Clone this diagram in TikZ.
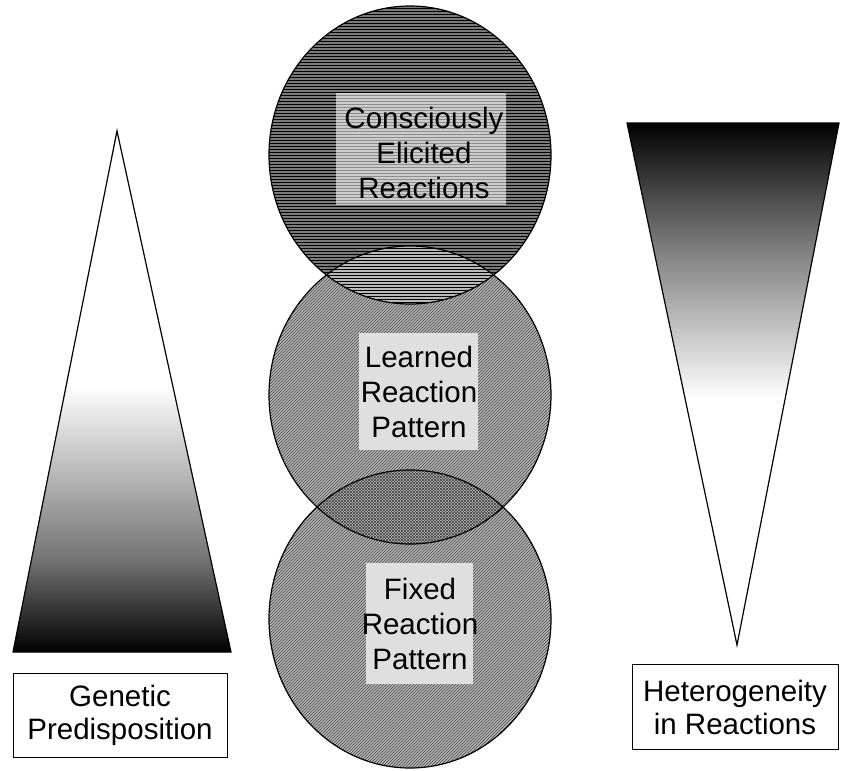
\documentclass[tikz,border=0pt]{standalone}
\usepackage{fontspec}
\setmainfont{Liberation Sans}
\usetikzlibrary{patterns}
\begin{document}
\begin{tikzpicture}[x=1pt,y=-1pt,
  outline/.style={draw=black,line width=1.2pt},
  labelbox/.style={draw=black,line width=0.9pt,fill=white,align=center,inner sep=0pt,
     font=\fontsize{29.5}{33}\selectfont},
  circtext/.style={align=center,inner sep=0pt,font=\fontsize{29.5}{35}\selectfont},
  lightbox/.style={fill=gray!25}
]
\useasboundingbox (0,0) rectangle (841,771);
\fill[white] (0,0) rectangle (841,771);

% ---------- left triangle ----------
\coordinate (LA) at (117,131);
\coordinate (LB) at (13,652);
\coordinate (LC) at (231,652);
\begin{scope}
  \clip (LA) -- (LB) -- (LC) -- cycle;
  \shade[top color=white,bottom color=black!55] (0,385) rectangle (250,560);
  \shade[top color=black!55,bottom color=black] (0,559.5) rectangle (250,653);
\end{scope}
\draw[outline,line join=miter] (LA) -- (LB) -- (LC) -- cycle;

% ---------- right triangle ----------
\coordinate (RA) at (627,123);
\coordinate (RB) at (839,123);
\coordinate (RC) at (737,645);
\begin{scope}
  \clip (RA) -- (RB) -- (RC) -- cycle;
  \shade[top color=black,bottom color=black!50] (600,122) rectangle (841,250);
  \shade[top color=black!50,bottom color=white] (600,249.5) rectangle (841,400);
\end{scope}
\draw[outline,line join=miter] (RA) -- (RB) -- (RC) -- cycle;

% ---------- circles ----------
\def\rx{141}\def\ry{149}
\coordinate (C1) at (410,155);
\coordinate (C2) at (410,395);
\coordinate (C3) at (410,619);

% circle 3 and 2 base fills
\fill[gray!55] (C3) ellipse [x radius=\rx,y radius=\ry];
\fill[pattern=north east lines,pattern color=black!75] (C3) ellipse [x radius=\rx,y radius=\ry];
\fill[gray!55] (C2) ellipse [x radius=\rx,y radius=\ry];
\fill[pattern=north east lines,pattern color=black!75] (C2) ellipse [x radius=\rx,y radius=\ry];
% lens between circle 2 and 3
\begin{scope}
  \clip (C3) ellipse [x radius=\rx,y radius=\ry];
  \fill[pattern=north west lines,pattern color=black!75] (C2) ellipse [x radius=\rx,y radius=\ry];
\end{scope}
% circle 1
\fill[black!52] (C1) ellipse [x radius=\rx,y radius=\ry];
\fill[pattern=horizontal lines,pattern color=black] (C1) ellipse [x radius=\rx,y radius=\ry];
% lens between circle 1 and 2
\begin{scope}
  \clip (C1) ellipse [x radius=\rx,y radius=\ry];
  \fill[gray!55] (C2) ellipse [x radius=\rx,y radius=\ry];
  \fill[pattern=horizontal lines,pattern color=black] (C2) ellipse [x radius=\rx,y radius=\ry];
\end{scope}

% light boxes behind the texts
\fill[gray!40] (336,93) rectangle (506,205);
\fill[pattern=horizontal lines,pattern color=black!45] (336,93) rectangle (506,205);
\fill[lightbox] (359,333) rectangle (478,450);
\fill[lightbox] (366,563) rectangle (473,684);

% outlines
\draw[outline] (C3) ellipse [x radius=\rx,y radius=\ry];
\draw[outline] (C2) ellipse [x radius=\rx,y radius=\ry];
\draw[outline] (C1) ellipse [x radius=\rx,y radius=\ry];

% texts in circles
\node[circtext] (t1) at (424,153) {Consciously\\Elicited\\Reactions};
\node[circtext] (t2) at (419,392) {Learned\\Reaction\\Pattern};
\node[circtext] (t3) at (420,624) {Fixed\\Reaction\\Pattern};

% label boxes
\node[labelbox,minimum width=214,minimum height=84] (gen) at (120,715) {Genetic\\Predisposition};
\node[labelbox,minimum width=206,minimum height=85] (het) at (735,707) {Heterogeneity\\in Reactions};
\end{tikzpicture}
\end{document}
